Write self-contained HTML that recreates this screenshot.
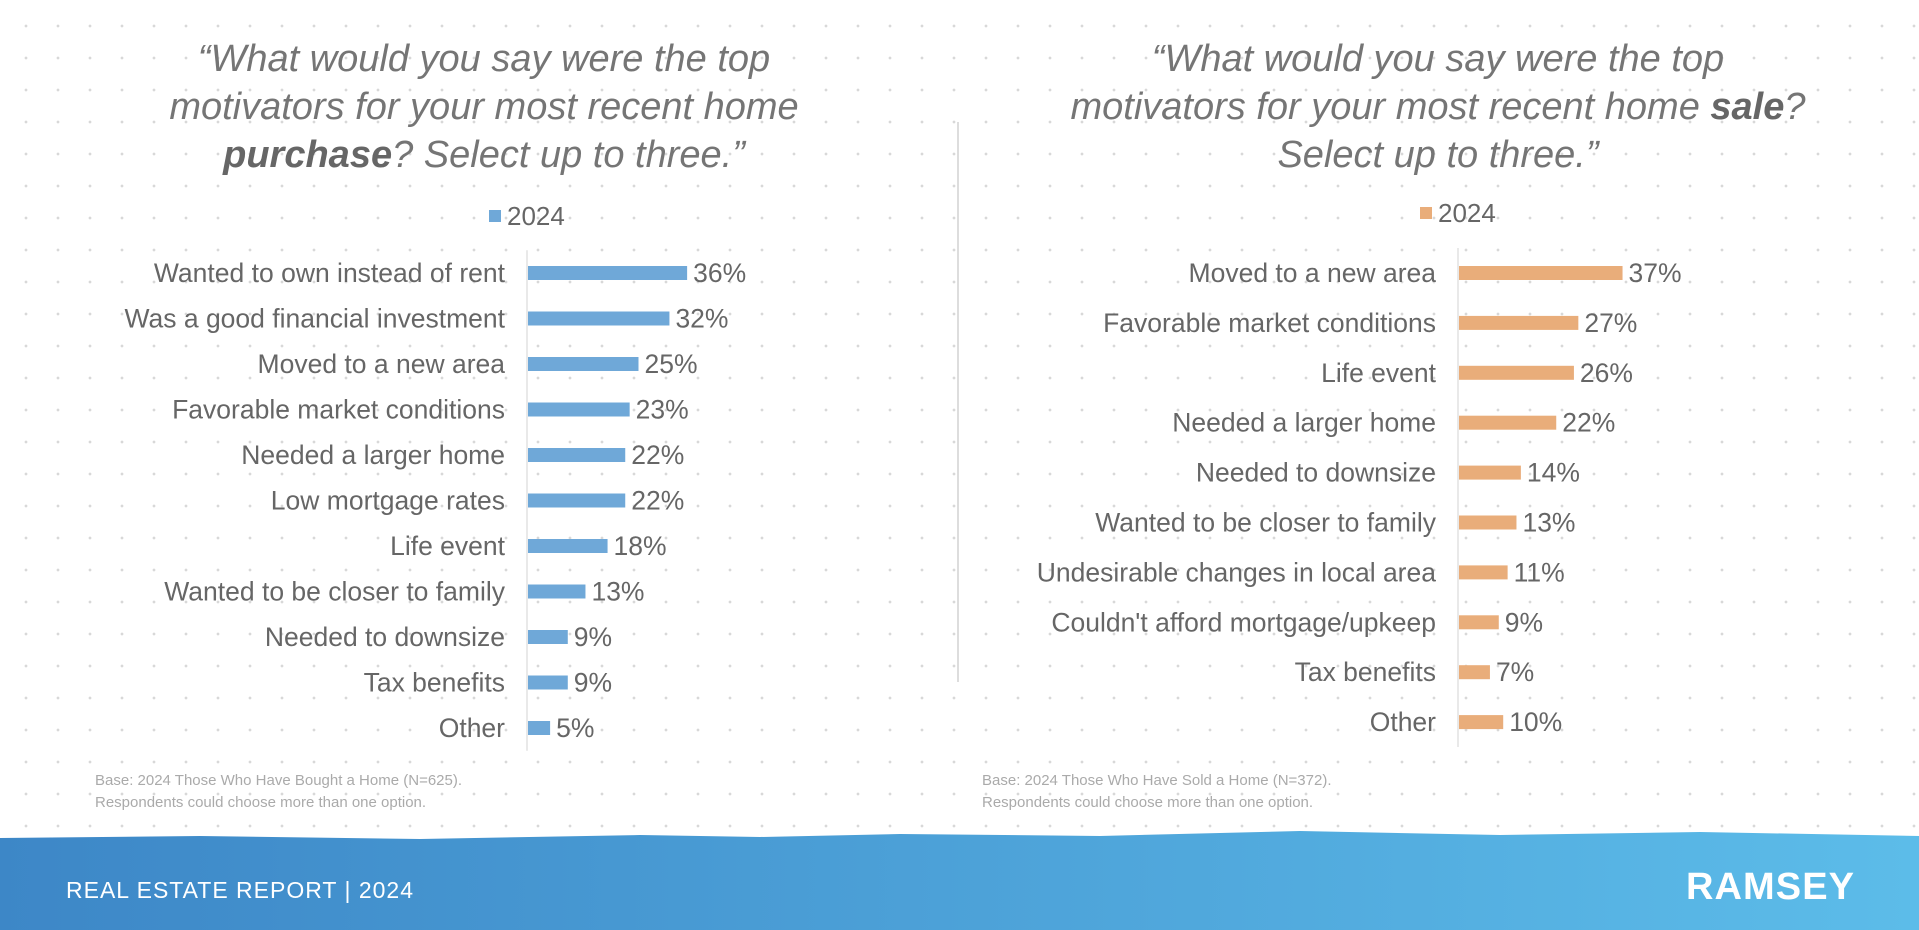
<!DOCTYPE html>
<html><head><meta charset="utf-8"><style>
html,body{margin:0;padding:0}
body{width:1919px;height:930px;overflow:hidden;background:#fff;font-family:"Liberation Sans",sans-serif;position:relative}
#dots{position:absolute;left:0;top:0;width:1919px;height:840px;background-image:radial-gradient(circle,#d8d8d8 1.2px,transparent 1.6px);background-size:32px 32px;background-position:10px 10px}
svg{position:absolute;left:0;top:0}
</style></head><body>
<div id="dots"></div>
<svg id="chart" width="1919" height="930">
<defs><linearGradient id="bg" x1="0" x2="1"><stop offset="0" stop-color="#3d87c7"/><stop offset="1" stop-color="#5cbce9"/></linearGradient></defs>
<g font-style="italic" font-size="38" fill="#757575" text-anchor="middle">
<text x="484" y="71">“What would you say were the top</text>
<text x="484" y="119">motivators for your most recent home</text>
<text x="484" y="167"><tspan font-weight="bold" fill="#666">purchase</tspan>? Select up to three.”</text>
</g>
<g font-style="italic" font-size="38" fill="#757575" text-anchor="middle">
<text x="1438" y="71">“What would you say were the top</text>
<text x="1438" y="119">motivators for your most recent home <tspan font-weight="bold" fill="#666">sale</tspan>?</text>
<text x="1438" y="167">Select up to three.”</text>
</g>
<line x1="958" y1="122" x2="958" y2="682" stroke="#ddd" stroke-width="2"/>
<g><rect x="489" y="210" width="12" height="12" fill="#6fa8d8"/><text x="507" y="225" font-size="26" fill="#666">2024</text></g>
<g><rect x="1420" y="207" width="12" height="12" fill="#e9ad7a"/><text x="1438" y="222" font-size="26" fill="#666">2024</text></g>
<g id="left"></g>
<g id="right"></g>
<g font-size="15" fill="#aaa">
<text x="95" y="785">Base: 2024 Those Who Have Bought a Home (N=625).</text>
<text x="95" y="807">Respondents could choose more than one option.</text>
<text x="982" y="785">Base: 2024 Those Who Have Sold a Home (N=372).</text>
<text x="982" y="807">Respondents could choose more than one option.</text>
</g>
<path d="M0 838 L200 836 L420 839 L640 835 L760 837 L900 834 L1100 836 L1300 831 L1500 835 L1700 832 L1919 836 L1919 930 L0 930 Z" fill="url(#bg)"/>
<text x="66" y="898" font-size="23" fill="#fff" letter-spacing="1">REAL ESTATE REPORT | 2024</text>
<text x="1686" y="899" font-size="38" font-weight="bold" fill="#fff" textLength="168">RAMSEY</text>
</svg>
<script>
const leftCategories=["Wanted to own instead of rent","Was a good financial investment","Moved to a new area","Favorable market conditions","Needed a larger home","Low mortgage rates","Life event","Wanted to be closer to family","Needed to downsize","Tax benefits","Other"];
const leftValues=[36,32,25,23,22,22,18,13,9,9,5];
const rightCategories=["Moved to a new area","Favorable market conditions","Life event","Needed a larger home","Needed to downsize","Wanted to be closer to family","Undesirable changes in local area","Couldn't afford mortgage/upkeep","Tax benefits","Other"];
const rightValues=[37,27,26,22,14,13,11,9,7,10];
const NS="http://www.w3.org/2000/svg";
function draw(gid,cats,vals,axisX,y0,step,color){
  const g=document.getElementById(gid);
  const xs=v=>v*4.42;
  const ys=i=>y0+i*step;
  const ax=document.createElementNS(NS,"line");
  
  
  ax.setAttribute("x1",axisX);ax.setAttribute("x2",axisX);
  ax.setAttribute("y1",ys(0)-step/2);ax.setAttribute("y2",ys(cats.length-1)+step/2);
  ax.setAttribute("stroke","#e2e2e2");ax.setAttribute("stroke-width","1.5");g.appendChild(ax);
  cats.forEach((c,i)=>{
    const y=ys(i);
    const t=document.createElementNS(NS,"text");
    
    
    t.setAttribute("x",axisX-22);t.setAttribute("y",y+9);t.setAttribute("text-anchor","end");
    t.setAttribute("font-size","26.5");t.setAttribute("fill","#666");t.textContent=c;g.appendChild(t);
    const r=document.createElementNS(NS,"rect");
    
    
    r.setAttribute("x",axisX+1);r.setAttribute("y",y-7);r.setAttribute("width",xs(vals[i]));
    r.setAttribute("height",14);r.setAttribute("fill",color);g.appendChild(r);
    const v=document.createElementNS(NS,"text");
    
    
    v.setAttribute("x",axisX+1+xs(vals[i])+6);v.setAttribute("y",y+9);
    v.setAttribute("font-size","26.5");v.setAttribute("fill","#666");v.textContent=vals[i]+"%";g.appendChild(v);
  });
}
draw("left",leftCategories,leftValues,527,273,45.5,"#6fa8d8");
draw("right",rightCategories,rightValues,1458,273,49.9,"#e9ad7a");
</script>
</body></html>
